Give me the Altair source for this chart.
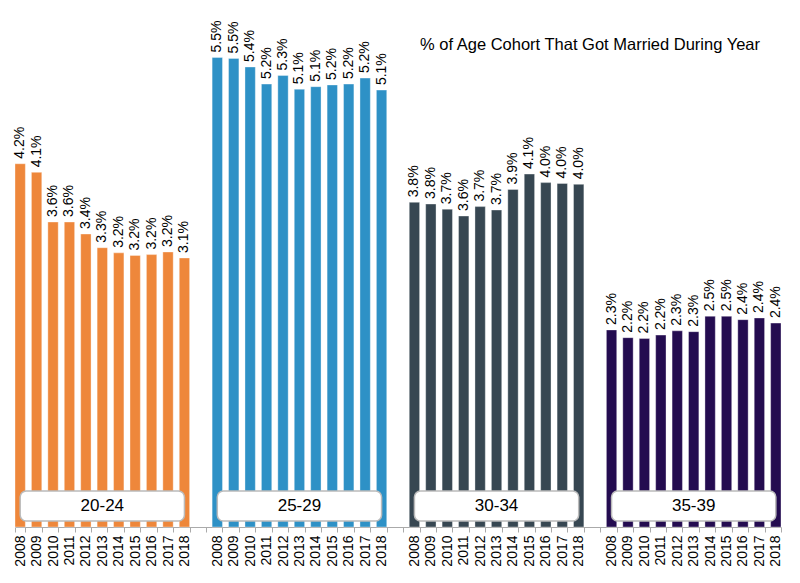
import altair as alt
import pandas as pd

years = ["2008", "2009", "2010", "2011", "2012", "2013", "2014", "2015", "2016", "2017", "2018"]
groups = ["20-24", "25-29", "30-34", "35-39"]
colors = ["#EE873B", "#2E91C6", "#374752", "#240C50"]
v2024 = [4.24, 4.14, 3.56, 3.56, 3.42, 3.26, 3.20, 3.17, 3.18, 3.21, 3.14]
v2529 = [5.48, 5.47, 5.37, 5.17, 5.27, 5.11, 5.14, 5.16, 5.17, 5.24, 5.10]
v3034 = [3.79, 3.77, 3.71, 3.63, 3.74, 3.70, 3.94, 4.12, 4.02, 4.01, 4.00]
v3539 = [2.30, 2.21, 2.20, 2.24, 2.29, 2.28, 2.46, 2.46, 2.42, 2.44, 2.38]
title_text = "% of Age Cohort That Got Married During Year"

series = [v2024, v2529, v3034, v3539]
rows = []
domain = []
boxes = []
for gi, (g, vals) in enumerate(zip(groups, series)):
    keys = [f"{g}_{y}" for y in years]
    domain += keys
    if gi < len(groups) - 1:
        domain.append(f"gap{gi}")
    for k, y, v in zip(keys, years, vals):
        rows.append({"key": k, "group": g, "year": y, "value": v, "label": f"{v:.1f}%"})
    boxes.append({"group": g, "start": keys[0], "end": keys[-1], "mid": keys[len(keys) // 2]})

df = pd.DataFrame(rows)
bdf = pd.DataFrame(boxes)

xscale = alt.Scale(domain=domain, paddingInner=0.37, paddingOuter=0)
yscale = alt.Scale(domain=[0, 6])

xaxis = alt.Axis(
    title=None,
    labelAngle=270,
    labelExpr="isString(datum.value) && slice(datum.value,0,3)!='gap' ? slice(datum.value,-4) : ''",
    labelFontSize=14,
    labelColor="#000000",
    labelPadding=3,
    tickBand="extent",
    tickSize=5,
    tickColor="#AAAAAA",
    domainColor="#AAAAAA",
    grid=False,
)

base = alt.Chart(df)

bars = base.mark_bar(stroke="white", strokeOpacity=0.35, strokeWidth=1).encode(
    x=alt.X("key:N", scale=xscale, axis=xaxis, sort=None),
    y=alt.Y("value:Q", scale=yscale, axis=None),
    color=alt.Color("group:N", scale=alt.Scale(domain=groups, range=colors), legend=None),
)

labels = base.mark_text(angle=270, align="left", baseline="middle", dx=5, fontSize=14, color="#000000").encode(
    x=alt.X("key:N", scale=xscale, axis=xaxis, sort=None),
    y=alt.Y("value:Q", scale=yscale, axis=None),
    text="label:N",
)

boxc = alt.Chart(bdf)
box = boxc.mark_rect(fill="white", stroke="#BBBBBB", strokeWidth=1.5, cornerRadius=6).encode(
    x=alt.X("start:N", scale=xscale, axis=xaxis, sort=None, bandPosition=0.5),
    x2=alt.X2("end:N", bandPosition=0.5),
    y=alt.value(478),
    y2=alt.value(508),
)
boxtext = boxc.mark_text(fontSize=17, color="#000000", align="center", baseline="middle").encode(
    x=alt.X("mid:N", scale=xscale, axis=xaxis, sort=None),
    y=alt.value(493),
    text="group:N",
)

title = alt.Chart(pd.DataFrame({"t": [title_text]})).mark_text(
    fontSize=16.5, color="#000000", align="center", baseline="middle"
).encode(x=alt.value(575), y=alt.value(32), text="t:N")

chart = alt.layer(bars, labels, box, boxtext, title).properties(
    width=766, height=514,
    autosize=alt.AutoSizeParams(type="none"),
    padding={"left": 7, "top": 5, "right": 10, "bottom": 52},
).configure(font="Liberation Sans").configure_view(stroke=None)

chart.save("out.html", embed_options={"renderer": "svg", "actions": False})
